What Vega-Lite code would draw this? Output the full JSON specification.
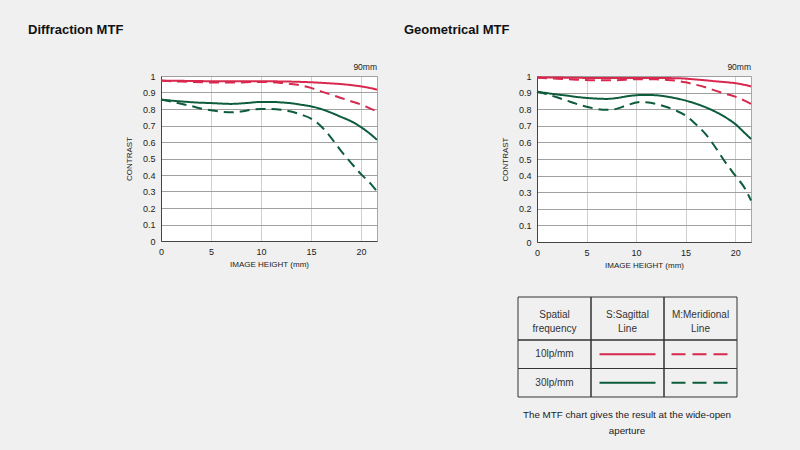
{
  "$schema": "https://vega.github.io/schema/vega-lite/v6.json",
  "background": "#f0f0f0",
  "padding": {"left": 27, "top": 23, "right": 44, "bottom": 17},
  "autosize": {"type": "pad"},
  "spacing": 160,
  "bounds": "flush",
  "datasets": {
    "diffraction": [
      {"height": 0, "contrast": 0.972, "frequency": "10lp/mm", "line": "S"},
      {"height": 3, "contrast": 0.970, "frequency": "10lp/mm", "line": "S"},
      {"height": 6, "contrast": 0.968, "frequency": "10lp/mm", "line": "S"},
      {"height": 10, "contrast": 0.968, "frequency": "10lp/mm", "line": "S"},
      {"height": 13, "contrast": 0.966, "frequency": "10lp/mm", "line": "S"},
      {"height": 15, "contrast": 0.962, "frequency": "10lp/mm", "line": "S"},
      {"height": 17, "contrast": 0.955, "frequency": "10lp/mm", "line": "S"},
      {"height": 18, "contrast": 0.951, "frequency": "10lp/mm", "line": "S"},
      {"height": 19, "contrast": 0.945, "frequency": "10lp/mm", "line": "S"},
      {"height": 20, "contrast": 0.937, "frequency": "10lp/mm", "line": "S"},
      {"height": 21, "contrast": 0.926, "frequency": "10lp/mm", "line": "S"},
      {"height": 21.6, "contrast": 0.917, "frequency": "10lp/mm", "line": "S"},
      {"height": 0, "contrast": 0.972, "frequency": "10lp/mm", "line": "M"},
      {"height": 2, "contrast": 0.966, "frequency": "10lp/mm", "line": "M"},
      {"height": 5, "contrast": 0.961, "frequency": "10lp/mm", "line": "M"},
      {"height": 7, "contrast": 0.960, "frequency": "10lp/mm", "line": "M"},
      {"height": 10, "contrast": 0.964, "frequency": "10lp/mm", "line": "M"},
      {"height": 12, "contrast": 0.958, "frequency": "10lp/mm", "line": "M"},
      {"height": 13, "contrast": 0.952, "frequency": "10lp/mm", "line": "M"},
      {"height": 14, "contrast": 0.943, "frequency": "10lp/mm", "line": "M"},
      {"height": 15, "contrast": 0.928, "frequency": "10lp/mm", "line": "M"},
      {"height": 16, "contrast": 0.907, "frequency": "10lp/mm", "line": "M"},
      {"height": 17, "contrast": 0.887, "frequency": "10lp/mm", "line": "M"},
      {"height": 18, "contrast": 0.867, "frequency": "10lp/mm", "line": "M"},
      {"height": 19, "contrast": 0.847, "frequency": "10lp/mm", "line": "M"},
      {"height": 20, "contrast": 0.827, "frequency": "10lp/mm", "line": "M"},
      {"height": 21, "contrast": 0.801, "frequency": "10lp/mm", "line": "M"},
      {"height": 21.6, "contrast": 0.786, "frequency": "10lp/mm", "line": "M"},
      {"height": 0, "contrast": 0.857, "frequency": "30lp/mm", "line": "S"},
      {"height": 2, "contrast": 0.846, "frequency": "30lp/mm", "line": "S"},
      {"height": 4, "contrast": 0.838, "frequency": "30lp/mm", "line": "S"},
      {"height": 5, "contrast": 0.836, "frequency": "30lp/mm", "line": "S"},
      {"height": 7, "contrast": 0.831, "frequency": "30lp/mm", "line": "S"},
      {"height": 8.5, "contrast": 0.836, "frequency": "30lp/mm", "line": "S"},
      {"height": 10, "contrast": 0.843, "frequency": "30lp/mm", "line": "S"},
      {"height": 11, "contrast": 0.843, "frequency": "30lp/mm", "line": "S"},
      {"height": 12, "contrast": 0.840, "frequency": "30lp/mm", "line": "S"},
      {"height": 13, "contrast": 0.835, "frequency": "30lp/mm", "line": "S"},
      {"height": 14, "contrast": 0.826, "frequency": "30lp/mm", "line": "S"},
      {"height": 15, "contrast": 0.816, "frequency": "30lp/mm", "line": "S"},
      {"height": 16, "contrast": 0.800, "frequency": "30lp/mm", "line": "S"},
      {"height": 17, "contrast": 0.778, "frequency": "30lp/mm", "line": "S"},
      {"height": 18, "contrast": 0.752, "frequency": "30lp/mm", "line": "S"},
      {"height": 19, "contrast": 0.726, "frequency": "30lp/mm", "line": "S"},
      {"height": 20, "contrast": 0.690, "frequency": "30lp/mm", "line": "S"},
      {"height": 21, "contrast": 0.645, "frequency": "30lp/mm", "line": "S"},
      {"height": 21.6, "contrast": 0.613, "frequency": "30lp/mm", "line": "S"},
      {"height": 0, "contrast": 0.857, "frequency": "30lp/mm", "line": "M"},
      {"height": 1, "contrast": 0.845, "frequency": "30lp/mm", "line": "M"},
      {"height": 2, "contrast": 0.832, "frequency": "30lp/mm", "line": "M"},
      {"height": 3, "contrast": 0.818, "frequency": "30lp/mm", "line": "M"},
      {"height": 4, "contrast": 0.803, "frequency": "30lp/mm", "line": "M"},
      {"height": 5, "contrast": 0.792, "frequency": "30lp/mm", "line": "M"},
      {"height": 6, "contrast": 0.784, "frequency": "30lp/mm", "line": "M"},
      {"height": 7, "contrast": 0.780, "frequency": "30lp/mm", "line": "M"},
      {"height": 8, "contrast": 0.785, "frequency": "30lp/mm", "line": "M"},
      {"height": 9, "contrast": 0.795, "frequency": "30lp/mm", "line": "M"},
      {"height": 10, "contrast": 0.800, "frequency": "30lp/mm", "line": "M"},
      {"height": 11, "contrast": 0.800, "frequency": "30lp/mm", "line": "M"},
      {"height": 12, "contrast": 0.796, "frequency": "30lp/mm", "line": "M"},
      {"height": 13, "contrast": 0.785, "frequency": "30lp/mm", "line": "M"},
      {"height": 14, "contrast": 0.766, "frequency": "30lp/mm", "line": "M"},
      {"height": 15, "contrast": 0.742, "frequency": "30lp/mm", "line": "M"},
      {"height": 16, "contrast": 0.696, "frequency": "30lp/mm", "line": "M"},
      {"height": 17, "contrast": 0.627, "frequency": "30lp/mm", "line": "M"},
      {"height": 18, "contrast": 0.546, "frequency": "30lp/mm", "line": "M"},
      {"height": 19, "contrast": 0.474, "frequency": "30lp/mm", "line": "M"},
      {"height": 20, "contrast": 0.405, "frequency": "30lp/mm", "line": "M"},
      {"height": 21, "contrast": 0.345, "frequency": "30lp/mm", "line": "M"},
      {"height": 21.6, "contrast": 0.300, "frequency": "30lp/mm", "line": "M"}
    ],
    "geometrical": [
      {"height": 0, "contrast": 0.992, "frequency": "10lp/mm", "line": "S"},
      {"height": 3, "contrast": 0.990, "frequency": "10lp/mm", "line": "S"},
      {"height": 6, "contrast": 0.988, "frequency": "10lp/mm", "line": "S"},
      {"height": 10, "contrast": 0.988, "frequency": "10lp/mm", "line": "S"},
      {"height": 14, "contrast": 0.987, "frequency": "10lp/mm", "line": "S"},
      {"height": 15, "contrast": 0.984, "frequency": "10lp/mm", "line": "S"},
      {"height": 16, "contrast": 0.979, "frequency": "10lp/mm", "line": "S"},
      {"height": 17, "contrast": 0.974, "frequency": "10lp/mm", "line": "S"},
      {"height": 18, "contrast": 0.968, "frequency": "10lp/mm", "line": "S"},
      {"height": 19, "contrast": 0.963, "frequency": "10lp/mm", "line": "S"},
      {"height": 20, "contrast": 0.957, "frequency": "10lp/mm", "line": "S"},
      {"height": 21, "contrast": 0.946, "frequency": "10lp/mm", "line": "S"},
      {"height": 21.6, "contrast": 0.937, "frequency": "10lp/mm", "line": "S"},
      {"height": 0, "contrast": 0.990, "frequency": "10lp/mm", "line": "M"},
      {"height": 2, "contrast": 0.984, "frequency": "10lp/mm", "line": "M"},
      {"height": 4, "contrast": 0.978, "frequency": "10lp/mm", "line": "M"},
      {"height": 6, "contrast": 0.974, "frequency": "10lp/mm", "line": "M"},
      {"height": 8, "contrast": 0.975, "frequency": "10lp/mm", "line": "M"},
      {"height": 10, "contrast": 0.981, "frequency": "10lp/mm", "line": "M"},
      {"height": 12, "contrast": 0.980, "frequency": "10lp/mm", "line": "M"},
      {"height": 13, "contrast": 0.977, "frequency": "10lp/mm", "line": "M"},
      {"height": 14, "contrast": 0.972, "frequency": "10lp/mm", "line": "M"},
      {"height": 15, "contrast": 0.962, "frequency": "10lp/mm", "line": "M"},
      {"height": 16, "contrast": 0.948, "frequency": "10lp/mm", "line": "M"},
      {"height": 17, "contrast": 0.932, "frequency": "10lp/mm", "line": "M"},
      {"height": 18, "contrast": 0.912, "frequency": "10lp/mm", "line": "M"},
      {"height": 19, "contrast": 0.893, "frequency": "10lp/mm", "line": "M"},
      {"height": 20, "contrast": 0.876, "frequency": "10lp/mm", "line": "M"},
      {"height": 21, "contrast": 0.850, "frequency": "10lp/mm", "line": "M"},
      {"height": 21.6, "contrast": 0.832, "frequency": "10lp/mm", "line": "M"},
      {"height": 0, "contrast": 0.906, "frequency": "30lp/mm", "line": "S"},
      {"height": 1, "contrast": 0.897, "frequency": "30lp/mm", "line": "S"},
      {"height": 2, "contrast": 0.889, "frequency": "30lp/mm", "line": "S"},
      {"height": 3, "contrast": 0.882, "frequency": "30lp/mm", "line": "S"},
      {"height": 4, "contrast": 0.874, "frequency": "30lp/mm", "line": "S"},
      {"height": 5, "contrast": 0.868, "frequency": "30lp/mm", "line": "S"},
      {"height": 6, "contrast": 0.864, "frequency": "30lp/mm", "line": "S"},
      {"height": 7, "contrast": 0.862, "frequency": "30lp/mm", "line": "S"},
      {"height": 8, "contrast": 0.867, "frequency": "30lp/mm", "line": "S"},
      {"height": 9, "contrast": 0.877, "frequency": "30lp/mm", "line": "S"},
      {"height": 10, "contrast": 0.884, "frequency": "30lp/mm", "line": "S"},
      {"height": 11, "contrast": 0.886, "frequency": "30lp/mm", "line": "S"},
      {"height": 12, "contrast": 0.884, "frequency": "30lp/mm", "line": "S"},
      {"height": 13, "contrast": 0.877, "frequency": "30lp/mm", "line": "S"},
      {"height": 14, "contrast": 0.866, "frequency": "30lp/mm", "line": "S"},
      {"height": 15, "contrast": 0.852, "frequency": "30lp/mm", "line": "S"},
      {"height": 16, "contrast": 0.834, "frequency": "30lp/mm", "line": "S"},
      {"height": 17, "contrast": 0.812, "frequency": "30lp/mm", "line": "S"},
      {"height": 18, "contrast": 0.785, "frequency": "30lp/mm", "line": "S"},
      {"height": 19, "contrast": 0.752, "frequency": "30lp/mm", "line": "S"},
      {"height": 20, "contrast": 0.711, "frequency": "30lp/mm", "line": "S"},
      {"height": 21, "contrast": 0.655, "frequency": "30lp/mm", "line": "S"},
      {"height": 21.6, "contrast": 0.621, "frequency": "30lp/mm", "line": "S"},
      {"height": 0, "contrast": 0.906, "frequency": "30lp/mm", "line": "M"},
      {"height": 1, "contrast": 0.890, "frequency": "30lp/mm", "line": "M"},
      {"height": 2, "contrast": 0.872, "frequency": "30lp/mm", "line": "M"},
      {"height": 3, "contrast": 0.852, "frequency": "30lp/mm", "line": "M"},
      {"height": 4, "contrast": 0.832, "frequency": "30lp/mm", "line": "M"},
      {"height": 5, "contrast": 0.815, "frequency": "30lp/mm", "line": "M"},
      {"height": 6, "contrast": 0.802, "frequency": "30lp/mm", "line": "M"},
      {"height": 7, "contrast": 0.796, "frequency": "30lp/mm", "line": "M"},
      {"height": 8, "contrast": 0.802, "frequency": "30lp/mm", "line": "M"},
      {"height": 9, "contrast": 0.822, "frequency": "30lp/mm", "line": "M"},
      {"height": 10, "contrast": 0.840, "frequency": "30lp/mm", "line": "M"},
      {"height": 10.5, "contrast": 0.844, "frequency": "30lp/mm", "line": "M"},
      {"height": 11, "contrast": 0.842, "frequency": "30lp/mm", "line": "M"},
      {"height": 12, "contrast": 0.832, "frequency": "30lp/mm", "line": "M"},
      {"height": 13, "contrast": 0.815, "frequency": "30lp/mm", "line": "M"},
      {"height": 14, "contrast": 0.792, "frequency": "30lp/mm", "line": "M"},
      {"height": 15, "contrast": 0.762, "frequency": "30lp/mm", "line": "M"},
      {"height": 16, "contrast": 0.711, "frequency": "30lp/mm", "line": "M"},
      {"height": 17, "contrast": 0.651, "frequency": "30lp/mm", "line": "M"},
      {"height": 18, "contrast": 0.571, "frequency": "30lp/mm", "line": "M"},
      {"height": 19, "contrast": 0.481, "frequency": "30lp/mm", "line": "M"},
      {"height": 20, "contrast": 0.401, "frequency": "30lp/mm", "line": "M"},
      {"height": 21, "contrast": 0.321, "frequency": "30lp/mm", "line": "M"},
      {"height": 21.6, "contrast": 0.250, "frequency": "30lp/mm", "line": "M"}
    ],
    "tableHeader": [
      {"row": "header", "col": "freq", "text": "Spatial\nfrequency"},
      {"row": "header", "col": "S", "text": "S:Sagittal\nLine"},
      {"row": "header", "col": "M", "text": "M:Meridional\nLine"}
    ],
    "tableBody": [
      {"row": "10lp/mm", "col": "freq", "text": "10lp/mm"},
      {"row": "10lp/mm", "col": "S", "text": ""},
      {"row": "10lp/mm", "col": "M", "text": ""},
      {"row": "30lp/mm", "col": "freq", "text": "30lp/mm"},
      {"row": "30lp/mm", "col": "S", "text": ""},
      {"row": "30lp/mm", "col": "M", "text": ""}
    ]
  },
  "hconcat": [
    {
      "width": 216,
      "height": 165,
      "title": {"text": "Diffraction MTF", "dx": -133},
      "data": {"name": "diffraction"},
      "layer": [
        {
          "mark": {"type": "line", "interpolate": "monotone", "strokeWidth": 2},
          "encoding": {
            "x": {"field": "height", "type": "quantitative", "scale": {"domain": [0, 21.6], "nice": false}, "axis": {"values": [0, 5, 10, 15, 20], "tickCount": 20, "title": "IMAGE HEIGHT (mm)"}},
            "y": {"field": "contrast", "type": "quantitative", "scale": {"domain": [0, 1]}, "axis": {"values": [0, 0.1, 0.2, 0.3, 0.4, 0.5, 0.6, 0.7, 0.8, 0.9, 1], "tickCount": 20, "format": "~g", "title": "CONTRAST"}},
            "color": {"field": "frequency", "type": "nominal", "scale": {"domain": ["10lp/mm", "30lp/mm"], "range": ["#d8284e", "#0d5c3b"]}, "legend": null},
            "strokeDash": {"field": "line", "type": "nominal", "scale": {"domain": ["S", "M"], "range": [[1, 0], [10, 6]]}, "legend": null}
          }
        },
        {
          "data": {"values": [{"label": "90mm"}]},
          "mark": {"type": "text", "align": "right", "baseline": "bottom", "dy": -4, "fontSize": 8.5, "color": "#222"},
          "encoding": {"x": {"datum": 21.6}, "y": {"datum": 1}, "text": {"field": "label"}}
        }
      ]
    },
    {
      "spacing": 55,
      "bounds": "flush",
      "vconcat": [
        {
          "width": 214,
          "height": 166,
          "title": {"text": "Geometrical MTF", "dx": -133},
          "data": {"name": "geometrical"},
          "layer": [
            {
              "mark": {"type": "line", "interpolate": "monotone", "strokeWidth": 2},
              "encoding": {
                "x": {"field": "height", "type": "quantitative", "scale": {"domain": [0, 21.6], "nice": false}, "axis": {"values": [0, 5, 10, 15, 20], "tickCount": 20, "title": "IMAGE HEIGHT (mm)"}},
                "y": {"field": "contrast", "type": "quantitative", "scale": {"domain": [0, 1]}, "axis": {"values": [0, 0.1, 0.2, 0.3, 0.4, 0.5, 0.6, 0.7, 0.8, 0.9, 1], "tickCount": 20, "format": "~g", "title": "CONTRAST"}},
                "color": {"field": "frequency", "type": "nominal", "scale": {"domain": ["10lp/mm", "30lp/mm"], "range": ["#d8284e", "#0d5c3b"]}, "legend": null},
                "strokeDash": {"field": "line", "type": "nominal", "scale": {"domain": ["S", "M"], "range": [[1, 0], [10, 6]]}, "legend": null}
              }
            },
            {
              "data": {"values": [{"label": "90mm"}]},
              "mark": {"type": "text", "align": "right", "baseline": "bottom", "dy": -4, "fontSize": 8.5, "color": "#222"},
              "encoding": {"x": {"datum": 21.6}, "y": {"datum": 1}, "text": {"field": "label"}}
            }
          ]
        },
        {
          "width": 200,
          "height": 100,
          "view": {"fill": null, "stroke": null},
          "title": {"text": ["The MTF chart gives the result at the wide-open", "aperture"], "orient": "bottom", "anchor": "middle", "fontSize": 9.8, "fontWeight": "normal", "dx": -10, "offset": 12, "lineHeight": 16, "color": "#222"},
          "resolve": {"scale": {"y": "independent"}},
          "layer": [
            {
              "data": {"name": "tableHeader"},
              "encoding": {
                "x": {"field": "col", "type": "nominal", "scale": {"domain": ["freq", "S", "M"], "range": [-19, 200], "paddingInner": 0, "paddingOuter": 0}, "axis": null},
                "y": {"field": "row", "type": "nominal", "scale": {"domain": ["header"], "range": [0, 43], "paddingInner": 0, "paddingOuter": 0}, "axis": null}
              },
              "layer": [
                {"mark": {"type": "rect", "fill": "transparent", "stroke": "#333", "strokeWidth": 1}},
                {"mark": {"type": "text", "lineBreak": "\n", "fontSize": 10, "lineHeight": 14, "dy": -4, "color": "#333"}, "encoding": {"text": {"field": "text"}}}
              ]
            },
            {
              "data": {"name": "tableBody"},
              "encoding": {
                "x": {"field": "col", "type": "nominal", "scale": {"domain": ["freq", "S", "M"], "range": [-19, 200], "paddingInner": 0, "paddingOuter": 0}, "axis": null},
                "y": {"field": "row", "type": "nominal", "scale": {"domain": ["10lp/mm", "30lp/mm"], "range": [43, 100], "paddingInner": 0, "paddingOuter": 0}, "axis": null}
              },
              "layer": [
                {"mark": {"type": "rect", "fill": "transparent", "stroke": "#333", "strokeWidth": 1}},
                {"mark": {"type": "text", "fontSize": 10, "color": "#333"}, "encoding": {"text": {"field": "text"}}},
                {
                  "transform": [{"filter": "datum.col == 'S'"}],
                  "mark": {"type": "rule", "strokeWidth": 2, "xOffset": -28, "x2Offset": 28},
                  "encoding": {
                    "x": {"field": "col", "type": "nominal", "bandPosition": 0.5},
                    "x2": {"field": "col", "bandPosition": 0.5},
                    "y": {"field": "row", "type": "nominal", "bandPosition": 0.5},
                    "color": {"field": "row", "type": "nominal", "scale": {"domain": ["10lp/mm", "30lp/mm"], "range": ["#d8284e", "#0d5c3b"]}, "legend": null}
                  }
                },
                {
                  "transform": [{"filter": "datum.col == 'M'"}],
                  "mark": {"type": "rule", "strokeWidth": 2, "xOffset": -29, "x2Offset": 29, "strokeDash": [14, 7]},
                  "encoding": {
                    "x": {"field": "col", "type": "nominal", "bandPosition": 0.5},
                    "x2": {"field": "col", "bandPosition": 0.5},
                    "y": {"field": "row", "type": "nominal", "bandPosition": 0.5},
                    "color": {"field": "row", "type": "nominal", "scale": {"domain": ["10lp/mm", "30lp/mm"], "range": ["#d8284e", "#0d5c3b"]}, "legend": null}
                  }
                }
              ]
            }
          ]
        }
      ]
    }
  ],
  "config": {
    "font": "Liberation Sans",
    "view": {"fill": "white", "stroke": "#a8a8a8"},
    "title": {"anchor": "start", "frame": "group", "fontSize": 13, "fontWeight": "bold", "color": "#111", "font": "Liberation Sans", "offset": 26},
    "axis": {
      "labelFont": "Liberation Sans",
      "labelFontSize": 9,
      "labelColor": "#222",
      "labelPadding": 6,
      "labelOverlap": false,
      "labelFlush": false,
      "titleFont": "Liberation Sans",
      "titleFontSize": 8,
      "titleFontWeight": "normal",
      "titleColor": "#222",
      "ticks": false,
      "domainColor": "#444",
      "domainWidth": 1
    },
    "axisX": {"gridColor": "#cfcfcf", "titlePadding": 4},
    "axisY": {"gridColor": "#a0a0a0", "titlePadding": 9}
  }
}
